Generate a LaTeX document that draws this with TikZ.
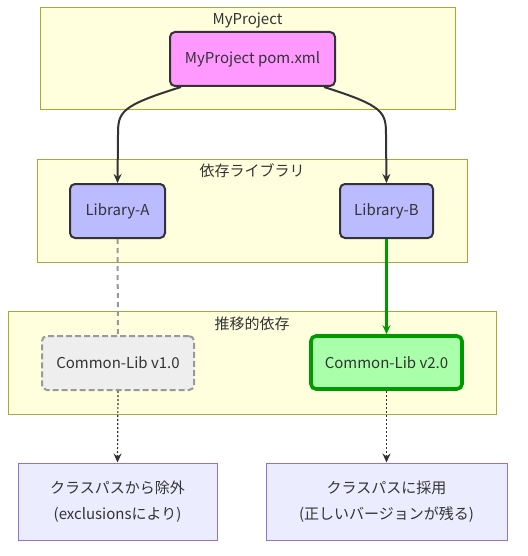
\documentclass[tikz,border=0pt]{standalone}
\usepackage{fontspec}
\setmainfont{Noto Sans CJK JP}
\usetikzlibrary{arrows.meta}
\definecolor{sgfill}{HTML}{FFFFDE}
\definecolor{sgline}{HTML}{AAAA33}
\definecolor{dark}{HTML}{333333}
\definecolor{pinkf}{HTML}{FF99FF}
\definecolor{libf}{HTML}{BBBBFF}
\definecolor{oldf}{HTML}{EEEEEE}
\definecolor{oldl}{HTML}{999999}
\definecolor{newf}{HTML}{AAFFAA}
\definecolor{newl}{HTML}{009900}
\definecolor{resf}{HTML}{ECECFF}
\definecolor{resl}{HTML}{9370DB}
\tikzset{
  sg/.style={draw=sgline, fill=sgfill, line width=1pt},
  sgtitle/.style={font=\fontsize{15}{17}\selectfont, text=dark, inner sep=0pt},
  box/.style={rounded corners=5pt, line width=2pt, draw=dark, text=dark, font=\fontsize{15}{18}\selectfont, inner sep=0pt},
  res/.style={draw=resl, fill=resf, line width=1pt, text=dark, align=center, font=\fontsize{15}{26}\selectfont, inner sep=0pt},
  arr/.style={-{Stealth[length=9pt,width=8pt]}, line width=2pt, draw=dark},
}
\begin{document}
\begin{tikzpicture}[x=1pt,y=-1pt]
\useasboundingbox (0,0) rectangle (527,556);
% subgraphs
\draw[sg] (40,8) rectangle (455,110);
\node[sgtitle] (t1) at (247.5,20.5) {MyProject};
\draw[sg] (37,160) rectangle (467,262);
\node[sgtitle] (t2) at (252,171) {依存ライブラリ};
\draw[sg] (8,311) rectangle (496,414);
\node[sgtitle] (t3) at (252,323.5) {推移的依存};
% nodes
\node[box, fill=pinkf, minimum width=165pt, minimum height=54pt] (pom) at (252.5,59) {MyProject pom.xml};
\node[box, fill=libf, minimum width=95pt, minimum height=54pt] (la) at (117.5,211) {Library-A};
\node[box, fill=libf, minimum width=93pt, minimum height=54pt] (lb) at (386.5,211) {Library-B};
\node[box, fill=oldf, draw=oldl, dash pattern=on 6pt off 3pt, minimum width=152pt, minimum height=54pt] (c1) at (118,363) {Common-Lib v1.0};
\node[box, fill=newf, draw=newl, line width=3.6pt, minimum width=151pt, minimum height=53pt] (c2) at (386.5,362.5) {Common-Lib v2.0};
\node[res, minimum width=199pt, minimum height=77pt] (r1) at (117.5,501.5) {クラスパスから除外\\(exclusionsにより)};
\node[res, minimum width=241pt, minimum height=77pt] (r2) at (386.5,501.5) {クラスパスに採用\\(正しいバージョンが残る)};
% edges
\draw[arr] ([xshift=12pt]pom.south west) .. controls (120,106) and (118,112) .. (118,135) -- (la.north);
\draw[arr] ([xshift=-12pt]pom.south east) .. controls (384,106) and (386,112) .. (386,135) -- (lb.north);
\draw[dash pattern=on 5pt off 4pt, draw=oldl, line width=2pt] (la.south) -- (c1.north);
\draw[-{Stealth[length=9pt,width=8pt]}, draw=newl, line width=3.6pt] (lb.south) -- (c2.north);
\draw[arr, line width=1.2pt, dash pattern=on 2pt off 2pt] (c1.south) -- (r1.north);
\draw[arr, line width=1.2pt, dash pattern=on 2pt off 2pt] (c2.south) -- (r2.north);
\end{tikzpicture}
\end{document}
